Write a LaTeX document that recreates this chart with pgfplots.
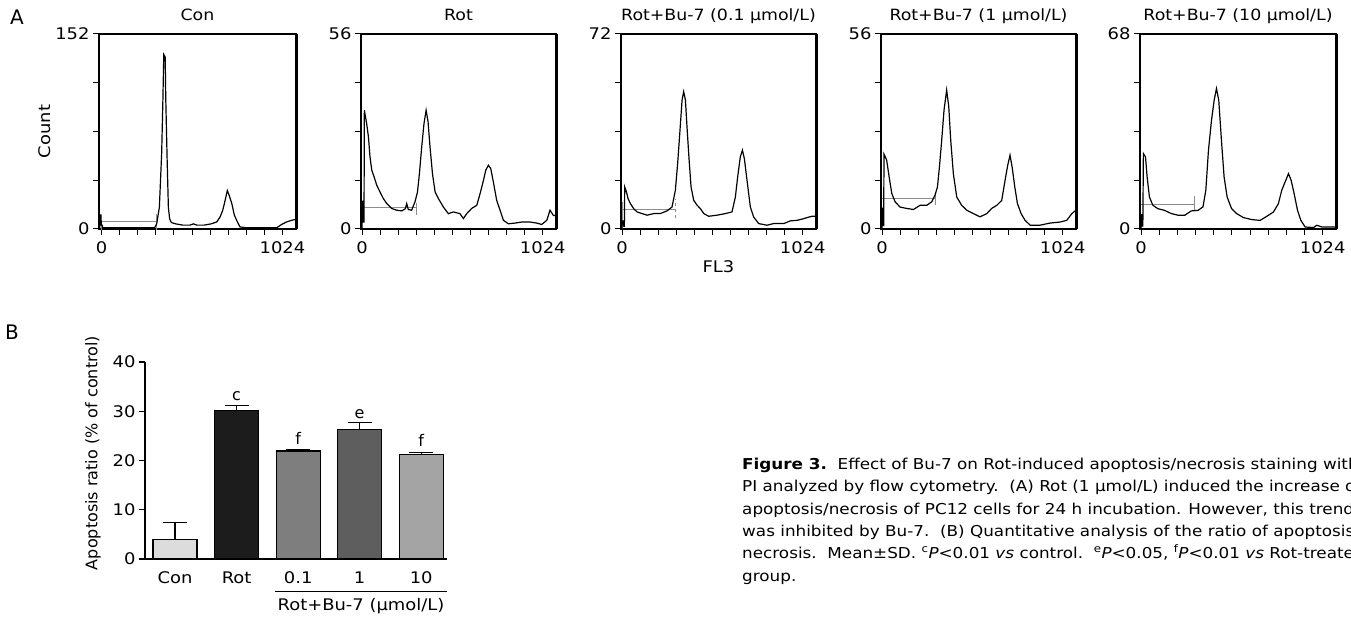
\documentclass[border=0pt]{standalone}
\usepackage{pgfplots}
\pgfplotsset{compat=1.18}
\usepackage{fontspec}
\setmainfont{DejaVu Sans}
\newfontfamily\wide[FakeStretch=1.12]{DejaVu Sans}
\definecolor{barA}{HTML}{DCDCDC}
\definecolor{barB}{HTML}{1C1C1C}
\definecolor{barC}{HTML}{7E7E7E}
\definecolor{barD}{HTML}{5E5E5E}
\definecolor{barE}{HTML}{A4A4A4}
\definecolor{gate}{HTML}{8C8C8C}
\newcommand{\lab}{\fontsize{16}{19}\selectfont}
\newcommand{\tlab}{\wide\fontsize{16}{19}\selectfont}
\newcommand{\ttl}{\wide\fontsize{15.5}{19}\selectfont}
\pgfplotsset{
  hist/.style={
    scale only axis, width=195pt, height=195pt, anchor=south west,
    ymin=0, xmin=-6, xmax=1099, clip=false,
    axis line style={line width=1.2pt},
    tick align=outside, tick pos=left, major tick length=6pt,
    every tick/.style={black, line width=1pt},
    xtick={0,102.4,204.8,307.2,409.6,512,614.4,716.8,819.2,921.6,1024},
    xticklabels={0,,,,,,,,,,1024},
    /pgf/number format/assume math mode=true,
    ticklabel style={font=\tlab},
    xticklabel style={yshift=-3pt},
    title style={font=\ttl, at={(0.5,1)}, anchor=base, yshift=7pt},
    xlabel style={font=\tlab},
    ylabel style={font=\tlab},
  },
  curve/.style={black, line width=1.2pt, mark=none},
  gateline/.style={gate, line width=1pt, mark=none},
}
\begin{document}
\begin{tikzpicture}
\useasboundingbox (0,0) rectangle (1351pt,616pt);
\clip (0,0) rectangle (1351pt,616pt);

\node[font=\fontsize{20}{24}\selectfont] at (17pt,599pt) {A};
\node[font=\fontsize{20}{24}\selectfont] at (12pt,284pt) {B};

% ---------- Panel 1: Con
\begin{axis}[hist, at={(99pt,387pt)}, width=197pt, xmin=-15, xmax=1101, ymax=152,
  ytick={0,38,76,114,152}, yticklabels={0,,,,152}, title={Con},
  ylabel={Count}, ylabel style={at={(axis description cs:-0.274,0.5)}, anchor=center}]
\addplot[gateline] coordinates {(0,5.5) (308,5.5)};
\addplot[gateline] coordinates {(0,-1) (0,7)};
\addplot[gateline] coordinates {(308,-1) (308,12)};
\addplot[curve] coordinates {(-10,0) (-10,11) (-4,11) (-2,3) (3,3) (6,1) (100,1) (200,1) (300,1) (312,4) (327,17) (340,59) (347,101) (352,136) (360,134) (363,103) (371,54) (378,17) (385,8) (395,5) (420,4) (460,3) (500,3) (520,4) (540,3) (580,3) (620,4) (652,5.5) (671,9.4) (686,14.6) (699,22) (712,30) (723,26) (737,20) (752,10.7) (769,5.5) (784,1.6) (820,1) (900,1) (992,1) (1020,3.6) (1048,5.5) (1077,6.8) (1099,7.5)};
\draw[line width=2.2pt] (rel axis cs:0,1) -- (rel axis cs:1,1);
\draw[line width=3pt] (rel axis cs:1,1) -- (rel axis cs:1,0);
\end{axis}

% ---------- Panel 2: Rot
\begin{axis}[hist, at={(361pt,387pt)}, ymax=56,
  ytick={0,14,28,42,56}, yticklabels={0,,,,56}, title={Rot}]
\addplot[gateline] coordinates {(0,6.1) (306,6.1)};
\addplot[gateline] coordinates {(306,4) (306,7.5)};
\addplot[curve] coordinates {(0,0) (0,8) (4,8) (6,2) (11,2) (13,34.1) (26,30.3) (36,26.5) (45,20.7) (55,16.9) (68,15) (83,12.6) (102,10.6) (121,8.7) (140,7.3) (168,5.9) (196,5.4) (225,5.2) (245,5.8) (253,7.3) (262,5.6) (281,5.4) (300,7.8) (314,10.6) (325,15.9) (338,23.6) (351,30.3) (363,34.1) (374,30.8) (385,23.6) (399,15.9) (414,10.6) (433,8.7) (461,6.3) (489,4.4) (518,4.9) (555,4.4) (574,3.0) (593,4.4) (621,5.9) (650,6.8) (669,10.2) (688,14) (701,16.9) (716,18.3) (729,17.4) (744,13.5) (763,8.2) (782,5.4) (801,2.5) (829,1.5) (867,1.7) (905,2) (952,2) (990,1.7) (1018,1.3) (1047,2.5) (1065,5.4) (1084,3.9) (1099,3.9)};
\draw[line width=2.2pt] (rel axis cs:0,1) -- (rel axis cs:1,1);
\draw[line width=3pt] (rel axis cs:1,1) -- (rel axis cs:1,0);
\end{axis}

% ---------- Panel 3: 0.1
\begin{axis}[hist, at={(621pt,387pt)}, ymax=72,
  ytick={0,18,36,54,72}, yticklabels={0,,,,72}, title={Rot+Bu-7 (0.1 µmol/L)},
  xlabel={FL3}, xlabel style={at={(axis description cs:0.5,-0.195)}, anchor=center}]
\addplot[gateline] coordinates {(0,7.3) (302,7.3)};
\addplot[gateline] coordinates {(0,0) (0,10)};
\addplot[gateline, dashed] coordinates {(302,4) (302,11)};
\addplot[curve] coordinates {(0,0) (0,3) (6,3) (10,1) (13,1) (15,15.5) (25,13.7) (34,11.2) (47,9.4) (66,7.5) (85,6.3) (113,5.7) (142,5.1) (180,5.7) (217,5.7) (255,6.7) (283,8.1) (302,14.3) (315,24.2) (327,35.3) (340,47.6) (349,50.7) (359,47.6) (368,37.7) (380,25.4) (391,15.5) (406,10.6) (425,8.8) (444,7.5) (463,5.7) (491,4.7) (538,5.1) (586,5.7) (623,6.3) (642,11.8) (655,19.2) (670,26.6) (682,29.1) (693,26) (708,18) (727,8.1) (746,4.4) (774,2) (821,1.4) (859,2) (916,2) (954,3) (991,3.2) (1029,3.8) (1058,4.4) (1076,4.7) (1099,4.7)};
\draw[line width=2.2pt] (rel axis cs:0,1) -- (rel axis cs:1,1);
\draw[line width=3pt] (rel axis cs:1,1) -- (rel axis cs:1,0);
\end{axis}

% ---------- Panel 4: 1
\begin{axis}[hist, at={(881pt,387pt)}, ymax=56,
  ytick={0,14,28,42,56}, yticklabels={0,,,,56}, title={Rot+Bu-7 (1 µmol/L)}]
\addplot[gateline] coordinates {(0,8.7) (300,8.7)};
\addplot[gateline] coordinates {(300,7) (300,10.5)};
\addplot[curve] coordinates {(0,0) (0,6) (4,6) (7,1) (9,1) (11,21.5) (26,19.8) (40,15) (55,10.2) (74,7.8) (102,6.3) (140,5.9) (178,5.6) (215,6.8) (253,6.8) (281,7.8) (300,9.7) (314,12.1) (325,17.8) (338,25.5) (351,34.1) (366,39.9) (378,35.1) (389,25.5) (404,15.9) (423,9.2) (451,6.8) (480,5.4) (518,4.4) (555,3.5) (593,4.4) (621,5.9) (650,6.8) (678,8.2) (697,14) (712,18.3) (725,21.2) (737,17.8) (752,12.1) (767,7.3) (788,4.4) (810,2.5) (839,1.1) (895,1.1) (952,1.7) (1009,2) (1047,2.5) (1075,4.4) (1094,5.2)};
\draw[line width=2.2pt] (rel axis cs:0,1) -- (rel axis cs:1,1);
\draw[line width=3pt] (rel axis cs:1,1) -- (rel axis cs:1,0);
\end{axis}

% ---------- Panel 5: 10
\begin{axis}[hist, at={(1140pt,387pt)}, width=196pt, ymax=68,
  ytick={0,17,34,51,68}, yticklabels={0,,,,68}, title={Rot+Bu-7 (10 µmol/L)}]
\addplot[gateline] coordinates {(0,8.6) (302,8.6)};
\addplot[gateline] coordinates {(302,6.5) (302,11.4)};
\addplot[curve] coordinates {(0,0) (0,5) (4,5) (7,1) (10,1) (13,26.3) (25,25.1) (34,18.2) (47,11.2) (66,8.3) (94,7.1) (132,6.5) (170,5.4) (208,4.8) (246,4.8) (283,6.3) (321,6.5) (349,7.7) (365,13.5) (380,27.5) (397,37.9) (412,44.9) (425,49) (438,44.9) (453,31) (468,18.2) (485,11.2) (510,7.1) (538,5.4) (576,4) (623,3.3) (671,3) (708,4.4) (746,5.9) (774,8.8) (793,13.5) (812,16.4) (831,19.3) (846,17) (863,12.3) (882,6.5) (901,3) (925,0.7) (972,0.5) (991,1.3) (1020,0.7) (1096,0.7)};
\draw[line width=2.2pt] (rel axis cs:0,1) -- (rel axis cs:1,1);
\draw[line width=3pt] (rel axis cs:1,1) -- (rel axis cs:1,0);
\end{axis}

% ---------- Panel B: bar chart
\begin{axis}[at={(145pt,57pt)}, anchor=south west, scale only axis,
  width=302pt, height=197pt, clip=false,
  xmin=-0.49, xmax=4.42, ymin=0, ymax=40,
  axis lines*=left, axis line style={line width=1.3pt},
  ytick={0,10,20,30,40}, tick align=outside, major tick length=6pt,
  y tick style={black, line width=1.2pt},
  xtick={0,1,2,3,4}, xticklabels={Con,Rot,0.1,1,10},
  x tick style={draw=none},
  /pgf/number format/assume math mode=true,
  ticklabel style={font=\tlab},
  xticklabel style={yshift=-3pt},
  ylabel={Apoptosis ratio (\% of control)},
  ylabel style={font=\lab, at={(axis description cs:-0.172,0.538)}, anchor=center},
  ybar, bar width=44pt, bar shift=0pt,
  error bars/y dir=plus, error bars/y explicit,
  error bars/error bar style={line width=1.3pt, black},
  error bars/error mark options={rotate=90, mark size=12pt, line width=1.3pt, black},
]
\addplot[fill=barA, draw=black, line width=1.3pt] coordinates {(0,4.0) +- (0,3.4)};
\addplot[fill=barB, draw=black, line width=1.3pt] coordinates {(1,30.2) +- (0,1.0)};
\addplot[fill=barC, draw=black, line width=1.3pt] coordinates {(2,21.9) +- (0,0.3)};
\addplot[fill=barD, draw=black, line width=1.3pt] coordinates {(3,26.3) +- (0,1.4)};
\addplot[fill=barE, draw=black, line width=1.3pt] coordinates {(4,21.25) +- (0,0.35)};
\node[font=\lab, anchor=base] at (axis cs:1,32.2) {c};
\node[font=\lab, anchor=base] at (axis cs:2,23.3) {f};
\node[font=\lab, anchor=base] at (axis cs:3,28.5) {e};
\node[font=\lab, anchor=base] at (axis cs:4,22.8) {f};
\end{axis}
\draw[line width=1pt] (275pt,25pt) -- (447pt,25pt);
\node[font=\tlab] at (361pt,10pt) {Rot+Bu-7 (µmol/L)};

% ---------- Caption
\begin{scope}[every node/.style={anchor=base west, inner sep=0pt, font=\wide\fontsize{15}{18}\selectfont}]
\node at (742pt,147pt) {\textbf{Figure 3.}\ \ Effect of Bu-7 on Rot-induced apoptosis/necrosis staining with};
\node at (742pt,125pt) {PI analyzed by flow cytometry.\ \ (A) Rot (1 µmol/L) induced the increase of};
\node at (742pt,102pt) {apoptosis/necrosis of PC12 cells for 24 h incubation. However, this trend};
\node at (742pt,80pt) {was inhibited by Bu-7.\ \ (B) Quantitative analysis of the ratio of apoptosis/};
\node at (742pt,58pt) {necrosis.\ \ Mean±SD. \textsuperscript{c}\textit{P}<0.01 \textit{vs} control.\ \ \textsuperscript{e}\textit{P}<0.05, \textsuperscript{f}\textit{P}<0.01 \textit{vs} Rot-treated};
\node at (742pt,35pt) {group.};
\end{scope}
\end{tikzpicture}
\end{document}
